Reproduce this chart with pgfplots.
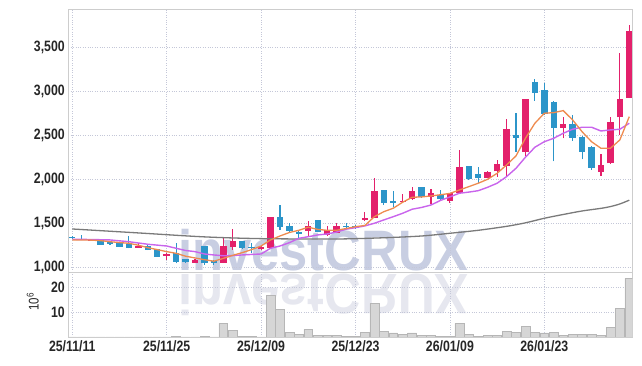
\documentclass[border=0pt]{standalone}
\usepackage{pgfplots}
\pgfplotsset{compat=1.18}
\usepackage{pgfplotstable}
\usepackage{graphicx}
\usepackage{fontspec}
\setmainfont{Liberation Sans}[FakeStretch=0.82]
\newfontfamily\wmfont{Liberation Sans}

\definecolor{upred}{HTML}{E3206B}
\definecolor{downblue}{HTML}{2C95C9}
\definecolor{maorange}{HTML}{EE8B4F}
\definecolor{mapurple}{HTML}{C965EC}
\definecolor{magray}{HTML}{7A7A7A}
\definecolor{gridc}{HTML}{C4C7D8}
\definecolor{framec}{HTML}{CDCDCD}
\definecolor{volfill}{HTML}{D6D6D6}
\definecolor{voledge}{HTML}{B6B6B6}
\definecolor{wmA}{HTML}{C8CEE2}
\definecolor{wmB}{HTML}{E6E7EF}
\definecolor{labc}{HTML}{262626}

\pgfplotstableread{
i o h l c v
0 1345 1355 1320 1328 0.1
1 1325 1365 1305 1310 0.1
2 1302 1322 1300 1320 0.1
3 1310 1312 1254 1256 0.1
4 1290 1300 1250 1264 0.1
5 1284 1290 1228 1233 0.1
6 1264 1355 1215 1218 0.1
7 1222 1272 1220 1241 0.1
8 1245 1250 1195 1199 0.1
9 1204 1206 1118 1120 0.1
10 1128 1165 1082 1147 0.1
11 1165 1272 1044 1063 0.4
12 1092 1095 1050 1054 0.1
13 1052 1095 1048 1078 0.1
14 1241 1245 1030 1044 0.4
15 1074 1080 1022 1051 0.1
16 1051 1340 1045 1241 5.5
17 1234 1432 1196 1298 2.8
18 1298 1300 1205 1222 0.4
19 1235 1272 1165 1220 0.4
20 1204 1240 1195 1227 0.1
21 1215 1570 1210 1568 17.0
22 1568 1705 1424 1461 11.3
23 1469 1507 1401 1416 2.0
24 1404 1410 1325 1382 1.2
25 1416 1530 1347 1469 3.1
26 1538 1540 1395 1404 0.8
27 1367 1473 1360 1424 0.8
28 1393 1507 1385 1469 0.7
29 1473 1500 1430 1454 0.4
30 1469 1475 1440 1446 0.4
31 1535 1632 1525 1562 1.9
32 1564 2012 1560 1871 13.7
33 1879 1880 1710 1728 2.4
34 1754 1868 1689 1735 1.7
35 1739 1830 1735 1757 1.1
36 1773 1910 1768 1868 1.7
37 1910 1912 1790 1796 0.8
38 1803 1887 1720 1842 0.8
39 1819 1879 1765 1780 0.4
40 1757 1845 1728 1842 0.3
41 1842 2335 1835 2138 5.5
42 2153 2155 1990 2001 1.2
43 2062 2145 1962 2019 0.3
44 2019 2090 2010 2084 0.8
45 2092 2221 2031 2175 0.8
46 2156 2685 2031 2574 2.4
47 2506 2753 2316 2475 2.0
48 2309 2915 2267 2912 4.4
49 3109 3140 2893 2988 2.0
50 3018 3095 2735 2742 1.7
51 2881 2890 2206 2589 2.0
52 2589 2714 2468 2631 0.8
53 2631 2733 2437 2475 1.2
54 2487 2490 2229 2316 1.2
55 2373 2375 2107 2133 1.2
56 2088 2286 2039 2164 0.8
57 2183 2707 2178 2658 3.9
58 2707 3436 2506 2916 11.6
59 2931 3759 2925 3690 23.8
}\ohlc

\pgfplotsset{
  common/.style={
    anchor=south west, scale only axis, width=564pt,
    xmin=-0.42, xmax=59.32,
    xtick={0,10,...,50},
    grid=major, grid style={gridc, dotted, line width=0.6pt},
    axis line style={framec, line width=0.8pt},
    major tick length=0pt,
    tick label style={font=\fontsize{15}{15}\selectfont\bfseries, text=labc},
  },
  candle/.style n args={2}{forget plot, draw=none, mark=none,
    error bars/y dir=plus, error bars/y explicit, error bars/error mark=none,
    error bars/error bar style={draw=#1, line width=#2, solid}},
}

\begin{document}
\begin{tikzpicture}
\useasboundingbox (0pt,0pt) rectangle (642pt,366pt);
% watermark
\node[anchor=base west, inner sep=0pt, text=wmB] at (178pt,91pt)
  {\scalebox{0.89}[-1]{\wmfont\bfseries\fontsize{57}{57}\selectfont investCRUX}};
\node[anchor=base west, inner sep=0pt, text=wmA] at (178pt,95pt)
  {\scalebox{0.89}[1]{\wmfont\bfseries\fontsize{57}{57}\selectfont investCRUX}};

% price panel
\begin{axis}[common,
  at={(68.3pt,94pt)}, height=262.7pt,
  ymin=945, ymax=3937,
  xticklabels={},
  ytick={1000,1500,2000,2500,3000,3500},
  yticklabels={{1,000},{1,500},{2,000},{2,500},{3,000},{3,500}},
]
% wicks
\addplot[restrict expr to domain={\thisrow{c}-\thisrow{o}}{0:100000},
  candle={upred}{1.1pt}]
  table[x=i, y=l, y error plus expr={\thisrow{h}-\thisrow{l}}] {\ohlc};
\addplot[restrict expr to domain={\thisrow{o}-\thisrow{c}}{0:100000},
  candle={downblue}{1.1pt}]
  table[x=i, y=l, y error plus expr={\thisrow{h}-\thisrow{l}}] {\ohlc};
% bodies
\addplot[restrict expr to domain={\thisrow{c}-\thisrow{o}}{0:100000},
  candle={upred}{6.4pt}]
  table[x=i, y=o, y error plus expr={\thisrow{c}-\thisrow{o}}] {\ohlc};
\addplot[restrict expr to domain={\thisrow{o}-\thisrow{c}}{0:100000},
  candle={downblue}{6.4pt}]
  table[x=i, y=c, y error plus expr={\thisrow{o}-\thisrow{c}}] {\ohlc};
% moving averages
\addplot[magray, line width=1.3pt, smooth] coordinates {
 (0,1435) (7,1390) (14,1345) (20,1325) (28,1321) (33,1335) (37,1355) (40,1386)
 (43,1420) (46,1465) (48,1505) (50,1557) (52,1600) (54,1640) (56,1670) (57,1690) (58,1720) (59,1763)};
\addplot[mapurple, line width=1.4pt] coordinates {
 (0,1318) (2,1315) (4,1310) (6,1290) (8,1261) (10,1241) (11,1215) (12,1190) (13,1177)
 (14,1150) (15,1139) (16,1130) (17,1132) (18,1139) (19,1145) (20,1150) (21,1215) (22,1241)
 (23,1279) (24,1329) (25,1347) (26,1367) (27,1378) (28,1400) (29,1432) (30,1450) (31,1470)
 (32,1500) (33,1538) (34,1575) (35,1614) (36,1660) (37,1680) (38,1708) (39,1760) (40,1800)
 (41,1842) (42,1855) (43,1871) (44,1910) (45,1956) (46,2031) (47,2126) (48,2252) (49,2366)
 (50,2429) (51,2468) (52,2525) (53,2571) (54,2594) (55,2594) (56,2551) (57,2563) (58,2571) (59,2639)};
\addplot[maorange, line width=1.3pt] coordinates {
 (0,1310) (1,1310) (2,1308) (3,1302) (4,1290) (5,1280) (6,1272) (7,1250) (8,1222) (9,1200)
 (10,1177) (11,1158) (12,1125) (13,1105) (14,1085) (15,1068) (16,1100) (17,1135) (18,1165)
 (19,1200) (20,1241) (21,1310) (22,1355) (23,1395) (24,1420) (25,1455) (26,1430) (27,1420)
 (28,1420) (29,1440) (30,1461) (31,1475) (32,1575) (33,1632) (34,1671) (35,1740) (36,1796)
 (37,1800) (38,1811) (39,1825) (40,1840) (41,1879) (42,1917) (43,1956) (44,2001) (45,2069)
 (46,2164) (47,2267) (48,2468) (49,2639) (50,2753) (51,2760) (52,2783) (53,2677) (54,2543)
 (55,2429) (56,2354) (57,2354) (58,2449) (59,2714)};
\end{axis}

% volume panel
\begin{axis}[common,
  at={(68.3pt,29pt)}, height=65pt,
  ymin=0, ymax=26.4,
  xticklabels={25/11/11,25/11/25,25/12/09,25/12/23,26/01/09,26/01/23},
  ytick={10,20}, yticklabels={10,20},
  ylabel={10\textsuperscript{6}},
  ylabel style={at={(axis description cs:-0.063,0.54)}, anchor=center,
    font=\fontsize{14}{14}\selectfont, text=labc},
]
\addplot[ybar, bar width=8.8pt, fill=volfill, draw=voledge, line width=0.5pt]
  table[x=i, y=v] {\ohlc};
\end{axis}
\end{tikzpicture}
\end{document}
